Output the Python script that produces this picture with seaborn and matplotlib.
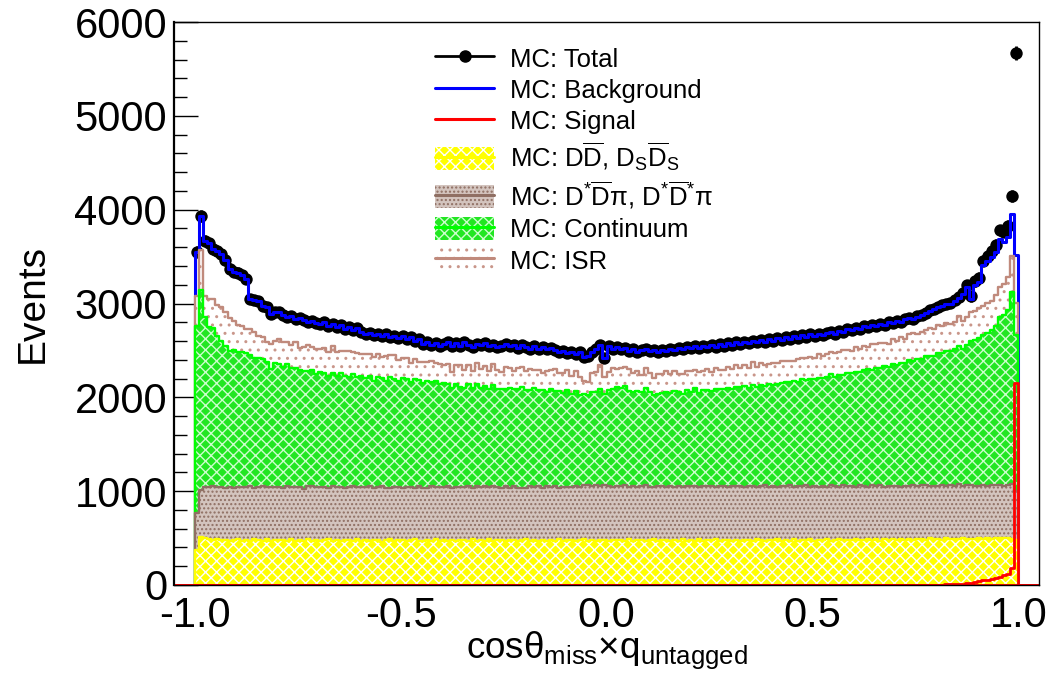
import numpy as np
import matplotlib
matplotlib.use("Agg")
import matplotlib.pyplot as plt
import seaborn as sns
from matplotlib.lines import Line2D
from matplotlib.patches import Patch
from matplotlib.legend_handler import HandlerTuple
from matplotlib.ticker import MultipleLocator

# ---------------------------------------------------------------------------
# Binning: 200 bins of width 0.01 on [-1, 1]
# ---------------------------------------------------------------------------
x_low, x_high, n_bins = -1.0, 1.0, 200
x_tick_values = [-1.0, -0.5, 0.0, 0.5, 1.0]
x_tick_labels = ["-1.0", "-0.5", "0.0", "0.5", "1.0"]
y_tick_values = [0, 1000, 2000, 3000, 4000, 5000, 6000]
y_tick_labels = ["0", "1000", "2000", "3000", "4000", "5000", "6000"]

# MC: D Dbar, Ds Dsbar
dd_counts = [
    375, 513, 498, 487, 480, 492, 476, 484, 470, 479,
    488, 474, 481, 466, 490, 477, 472, 485, 469, 480,
    476, 483, 471, 488, 465, 479, 474, 486, 470, 481,
    467, 478, 489, 473, 480, 466, 482, 475, 470, 487,
    472, 480, 468, 484, 475, 463, 479, 486, 471, 477,
    482, 469, 476, 488, 473, 465, 480, 474, 486, 470,
    478, 467, 483, 472, 480, 476, 464, 485, 471, 479,
    474, 487, 469, 478, 482, 466, 477, 484, 470, 476,
    488, 471, 479, 465, 483, 474, 480, 469, 486, 473,
    477, 482, 468, 479, 485, 471, 476, 466, 483, 478,
    470, 484, 475, 480, 467, 486, 473, 479, 482, 469,
    476, 488, 471, 477, 483, 465, 480, 474, 487, 472,
    479, 468, 485, 474, 480, 476, 489, 470, 478, 483,
    472, 480, 466, 484, 477, 471, 486, 479, 468, 482,
    476, 485, 473, 480, 469, 487, 474, 481, 477, 490,
    471, 483, 478, 486, 474, 480, 492, 476, 484, 479,
    488, 475, 482, 490, 478, 485, 473, 491, 480, 486,
    479, 494, 483, 488, 476, 490, 485, 482, 496, 487,
    491, 484, 497, 489, 493, 486, 499, 492, 488, 495,
    498, 490, 502, 494, 500, 496, 505, 498, 493, 480,
]

# MC: D* Dbar pi, D* Dbar* pi
dstar_counts = [
    395, 502, 548, 561, 570, 553, 566, 549, 575, 558,
    552, 571, 560, 584, 549, 566, 578, 555, 573, 561,
    569, 554, 580, 556, 577, 563, 551, 572, 585, 559,
    575, 562, 548, 579, 566, 583, 557, 571, 580, 553,
    568, 561, 584, 550, 573, 588, 559, 552, 576, 565,
    557, 578, 566, 549, 582, 570, 556, 581, 561, 574,
    563, 585, 552, 577, 560, 571, 590, 548, 579, 566,
    580, 555, 583, 568, 549, 587, 562, 574, 569, 557,
    551, 584, 567, 590, 556, 578, 564, 586, 553, 575,
    572, 560, 589, 566, 579, 596, 581, 603, 570, 584,
    588, 563, 579, 572, 596, 558, 584, 569, 577, 592,
    566, 553, 585, 574, 560, 590, 566, 580, 555, 583,
    573, 592, 561, 586, 570, 580, 553, 589, 576, 561,
    585, 570, 594, 563, 580, 588, 562, 571, 597, 566,
    580, 557, 586, 572, 593, 561, 582, 575, 588, 553,
    587, 566, 579, 560, 590, 573, 553, 585, 568, 578,
    561, 589, 571, 556, 583, 566, 592, 558, 575, 569,
    580, 555, 573, 567, 590, 562, 578, 586, 554, 572,
    566, 581, 557, 575, 563, 587, 552, 569, 580, 561,
    558, 574, 549, 570, 561, 566, 552, 568, 586, 520,
]

# MC: Continuum
continuum_counts = [
    1990, 2125, 1809, 1702, 1690, 1605, 1558, 1517, 1450, 1463,
    1445, 1435, 1435, 1405, 1385, 1375, 1360, 1335, 1255, 1325,
    1310, 1285, 1300, 1265, 1275, 1245, 1255, 1220, 1235, 1205,
    1225, 1220, 1195, 1210, 1185, 1215, 1190, 1170, 1200, 1175,
    1185, 1160, 1180, 1145, 1170, 1155, 1140, 1175, 1150, 1130,
    1165, 1145, 1120, 1155, 1130, 1115, 1140, 1105, 1125, 1100,
    1115, 1090, 1060, 1095, 1075, 1050, 1085, 1065, 1095, 1055,
    1070, 1045, 1080, 1040, 1055, 1035, 1065, 1030, 1050, 1075,
    1040, 1025, 1055, 1020, 1035, 1010, 1045, 1015, 1030, 1000,
    1025, 995, 1015, 985, 970, 960, 1005, 990, 1035, 975,
    1015, 1040, 1060, 1050, 1060, 1025, 1005, 1020, 995, 1035,
    1010, 985, 975, 1000, 1015, 995, 1025, 1005, 990, 1020,
    1010, 1035, 1000, 1020, 1030, 1015, 1045, 1025, 1040, 1055,
    1035, 1060, 1050, 1070, 1045, 1075, 1065, 1085, 1060, 1095,
    1080, 1105, 1090, 1115, 1100, 1125, 1110, 1135, 1120, 1150,
    1135, 1160, 1145, 1170, 1185, 1165, 1195, 1180, 1210, 1205,
    1225, 1210, 1240, 1255, 1235, 1265, 1250, 1280, 1270, 1295,
    1285, 1315, 1305, 1340, 1325, 1355, 1350, 1375, 1395, 1385,
    1415, 1405, 1435, 1425, 1455, 1475, 1465, 1500, 1535, 1555,
    1575, 1605, 1635, 1655, 1700, 1790, 1825, 1860, 2040, 1660,
]

# MC: ISR
isr_counts = [
    320, 425, 230, 300, 310, 330, 360, 360, 355, 315,
    290, 280, 250, 270, 270, 240, 235, 220, 270, 230,
    265, 270, 235, 250, 275, 240, 255, 280, 250, 265,
    245, 265, 250, 280, 255, 235, 270, 275, 230, 260,
    240, 265, 230, 255, 245, 220, 260, 235, 250, 225,
    215, 230, 200, 220, 195, 225, 205, 230, 190, 215,
    190, 215, 180, 205, 225, 195, 210, 185, 220, 200,
    215, 190, 225, 200, 185, 230, 205, 195, 220, 210,
    200, 225, 195, 215, 190, 220, 200, 230, 195, 210,
    220, 195, 210, 185, 140, 135, 195, 215, 255, 180,
    200, 225, 190, 215, 205, 230, 195, 210, 185, 220,
    205, 180, 215, 195, 225, 200, 210, 190, 220, 205,
    215, 195, 225, 205, 220, 200, 230, 210, 195, 225,
    210, 235, 200, 225, 215, 240, 205, 230, 220, 210,
    235, 215, 240, 220, 230, 210, 245, 225, 235, 240,
    225, 250, 235, 245, 230, 255, 240, 260, 245, 235,
    260, 245, 255, 240, 270, 250, 265, 255, 245, 270,
    260, 280, 265, 275, 290, 270, 285, 275, 295, 280,
    300, 285, 305, 295, 290, 315, 300, 290, 310, 305,
    320, 305, 315, 310, 325, 320, 325, 355, 390, 345,
]

# MC: Background (all background samples summed)
background_counts = [
    3550, 3935, 3670, 3640, 3580, 3560, 3530, 3460, 3370, 3340,
    3330, 3300, 3260, 3050, 3040, 3030, 2975, 2960, 2890, 2910,
    2910, 2880, 2860, 2870, 2835, 2850, 2820, 2800, 2815, 2790,
    2780, 2800, 2765, 2780, 2750, 2770, 2730, 2745, 2720, 2735,
    2700, 2675, 2690, 2660, 2680, 2655, 2670, 2640, 2655, 2630,
    2655, 2620, 2640, 2600, 2625, 2565, 2590, 2560, 2575, 2550,
    2565, 2585, 2550, 2575, 2545, 2590, 2560, 2540, 2570, 2555,
    2580, 2545, 2560, 2535, 2550, 2570, 2545, 2560, 2530, 2555,
    2540, 2520, 2550, 2515, 2535, 2510, 2525, 2500, 2480, 2495,
    2470, 2485, 2460, 2480, 2425, 2440, 2480, 2510, 2560, 2420,
    2550, 2520, 2535, 2510, 2525, 2495, 2510, 2480, 2500, 2515,
    2495, 2505, 2480, 2500, 2490, 2520, 2505, 2530, 2510, 2540,
    2525, 2545, 2530, 2550, 2535, 2560, 2540, 2565, 2550, 2575,
    2560, 2585, 2570, 2590, 2575, 2600, 2585, 2610, 2595, 2620,
    2605, 2630, 2615, 2640, 2625, 2650, 2635, 2660, 2645, 2670,
    2655, 2680, 2665, 2690, 2700, 2680, 2710, 2695, 2725, 2715,
    2740, 2725, 2755, 2745, 2770, 2760, 2785, 2775, 2800, 2790,
    2815, 2805, 2830, 2845, 2835, 2860, 2880, 2900, 2925, 2940,
    2960, 2975, 2990, 3000, 3030, 3060, 3100, 3175, 3050, 3200,
    3230, 3405, 3450, 3495, 3550, 3690, 3655, 3710, 3957, 3519,
]

# MC: Signal
signal_counts = [
    0, 0, 0, 0, 0, 0, 0, 0, 0, 0,
    0, 0, 0, 0, 0, 0, 0, 0, 0, 0,
    0, 0, 0, 0, 0, 0, 0, 0, 0, 0,
    0, 0, 0, 0, 0, 0, 0, 0, 0, 0,
    0, 0, 0, 0, 0, 0, 0, 0, 0, 0,
    0, 0, 0, 0, 0, 0, 0, 0, 0, 0,
    0, 0, 0, 0, 0, 0, 0, 0, 0, 0,
    0, 0, 0, 0, 0, 0, 0, 0, 0, 0,
    0, 0, 0, 0, 0, 0, 0, 0, 0, 0,
    0, 0, 0, 0, 0, 0, 0, 0, 0, 0,
    0, 0, 0, 0, 0, 0, 0, 0, 0, 0,
    0, 0, 0, 0, 0, 0, 0, 0, 0, 0,
    0, 0, 0, 0, 0, 0, 0, 0, 0, 0,
    0, 0, 0, 0, 0, 0, 0, 0, 0, 0,
    0, 0, 0, 0, 0, 0, 0, 0, 0, 0,
    0, 0, 0, 0, 0, 0, 0, 0, 0, 0,
    0, 0, 0, 0, 0, 0, 0, 0, 0, 0,
    0, 0, 0, 1, 1, 2, 2, 3, 3, 4,
    4, 5, 6, 8, 10, 12, 15, 20, 25, 35,
    45, 50, 55, 65, 75, 90, 110, 120, 185, 2150,
]

legend_labels = [
    "MC: Total",
    "MC: Background",
    "MC: Signal",
    r"MC: D$\overline{\mathrm{D}}$, D$_{\mathrm{S}}\overline{\mathrm{D}}_{\mathrm{S}}$",
    r"MC: D$^{*}\overline{\mathrm{D}}$π, D$^{*}\overline{\mathrm{D}}^{*}$π",
    "MC: Continuum",
    "MC: ISR",
]

# ---------------------------------------------------------------------------
# Style
# ---------------------------------------------------------------------------
sns.set_theme(style="white")
plt.rcParams["font.family"] = ["Liberation Sans", "DejaVu Sans"]
plt.rcParams["mathtext.fontset"] = "custom"
plt.rcParams["mathtext.rm"] = "Liberation Sans"
plt.rcParams["mathtext.it"] = "Liberation Sans:italic"
plt.rcParams["mathtext.bf"] = "Liberation Sans:bold"
plt.rcParams["mathtext.sf"] = "Liberation Sans"
plt.rcParams["axes.unicode_minus"] = False
plt.rcParams["hatch.linewidth"] = 1.0
plt.rcParams["text.color"] = "black"
plt.rcParams["axes.labelcolor"] = "black"
plt.rcParams["xtick.color"] = "black"
plt.rcParams["ytick.color"] = "black"

# fill colour, hatch colour, hatch pattern, outline colour (bottom -> top)
stack_styles = [
    dict(face="#ffff00", hatch_color="white", hatch="xxx", line="#ffff00"),
    dict(face="#d3c4be", hatch_color="#8f6f63", hatch="....", line="#8f6f63"),
    dict(face="#22e622", hatch_color="#ccffcc", hatch="xxx", line="#00ff00"),
    dict(face="white", hatch_color="#c9968a", hatch="..", line="#c08a7c"),
]

edges = np.linspace(x_low, x_high, n_bins + 1)
centers = 0.5 * (edges[:-1] + edges[1:])
bin_width = edges[1] - edges[0]

components = np.vstack([dd_counts, dstar_counts, continuum_counts, isr_counts]).astype(float)
stack_tops = np.cumsum(components, axis=0)
background = np.asarray(background_counts, dtype=float)
signal = np.asarray(signal_counts, dtype=float)
total = background + signal


def step_hist(ax, x, weights, bins, face, edge, lw, hatch=None):
    """Filled step histogram; face 'none' gives an outline only."""
    kws = dict(x=list(x), weights=list(weights), bins=list(bins), element="step",
               fill=True, alpha=1, color=edge, facecolor=face, edgecolor=edge,
               linewidth=lw, zorder=1, ax=ax)
    if hatch is not None:
        kws["hatch"] = hatch
    sns.histplot(**kws)


fig = plt.figure(figsize=(10.47, 6.77), dpi=100)
ax = fig.add_axes([174 / 1047, 92 / 677, 865 / 1047, 563 / 677])
ax.set_axisbelow(True)

# Total MC as points with statistical errors
ax.errorbar(centers, total, yerr=np.sqrt(total), xerr=bin_width / 2, fmt="none",
            ecolor="black", elinewidth=2.0, capsize=0, zorder=1)
sns.scatterplot(x=centers, y=total, color="black", s=80, linewidth=0,
                zorder=1, ax=ax, legend=False)

# Background sum as a step outline
step_hist(ax, centers, background, edges, "none", "#0000ff", 2.2)

# Stacked components, drawn from the full sum down to the lowest layer
for top, st in reversed(list(zip(stack_tops, stack_styles))):
    step_hist(ax, centers, top, edges, st["face"], st["hatch_color"], 0, hatch=st["hatch"])
    step_hist(ax, centers, top, edges, "none", st["line"], 1.7)

# Signal over the full frame range (zero outside [-1, 1])
pad = 5
sig_edges = np.linspace(x_low - pad * bin_width, x_high + pad * bin_width, n_bins + 2 * pad + 1)
sig_centers = 0.5 * (sig_edges[:-1] + sig_edges[1:])
sig_weights = np.concatenate([np.zeros(pad), signal, np.zeros(pad)])
step_hist(ax, sig_centers, sig_weights, sig_edges, "none", "#ff0000", 2.0)

# Axes
ax.set_xlim(x_low - pad * bin_width, x_high + pad * bin_width)
ax.set_ylim(y_tick_values[0], y_tick_values[-1])
ax.set_xticks(x_tick_values)
ax.set_xticklabels(x_tick_labels)
ax.set_yticks(y_tick_values)
ax.set_yticklabels(y_tick_labels)
ax.yaxis.set_minor_locator(MultipleLocator(200))
ax.tick_params(axis="y", which="major", direction="in", length=17, width=1,
               labelsize=30, pad=5, left=True, right=False)
ax.tick_params(axis="y", which="minor", direction="in", length=9, width=1,
               left=True, right=False)
ax.tick_params(axis="x", which="both", length=0, labelsize=30, pad=8)
for side in ["left", "right", "top", "bottom"]:
    ax.spines[side].set_color("black")
    ax.spines[side].set_linewidth(1.0)
ax.spines["left"].set_linewidth(1.6)

ax.set_ylabel("Events", fontsize=28)
ax.yaxis.set_label_coords(-0.142, 0.5)
ax.set_xlabel(r"cosθ$_{\mathrm{miss}}$×q$_{\mathrm{untagged}}$", fontsize=26.5)
ax.xaxis.set_label_coords(0.5, -0.079)

# Legend
handles = [
    Line2D([], [], color="black", lw=2, marker="o", markersize=8),
    Line2D([], [], color="#0000ff", lw=2.2),
    Line2D([], [], color="#ff0000", lw=2.2),
]
for st in stack_styles:
    handles.append((Patch(facecolor=st["face"], edgecolor=st["hatch_color"],
                          hatch=st["hatch"], linewidth=0),
                    Line2D([], [], color=st["line"], lw=2.2)))
ax.legend(handles, legend_labels, loc="upper left", bbox_to_anchor=(0.302, 0.957),
          frameon=False, fontsize=18.5, handlelength=2.3, handleheight=1.0,
          handletextpad=0.6, labelspacing=0.24, borderpad=0, borderaxespad=0,
          handler_map={tuple: HandlerTuple(ndivide=1)})

fig.savefig("out.png", dpi=100)
